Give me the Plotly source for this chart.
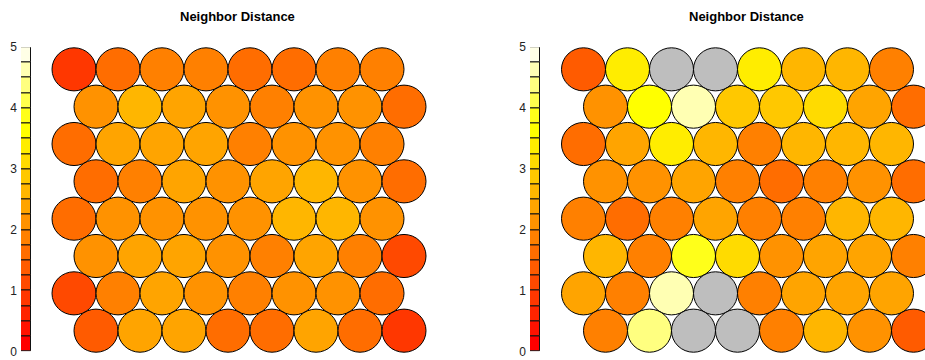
import math
import bisect
import plotly.graph_objects as go

# ---------------- data ----------------
heat_palette = ["#FF0000", "#FF1200", "#FF2400", "#FF3700", "#FF4900", "#FF5B00",
                "#FF6D00", "#FF8000", "#FF9200", "#FFA400", "#FFB600", "#FFC800",
                "#FFDB00", "#FFED00", "#FFFF00", "#FFFF1A", "#FFFF4D", "#FFFF80",
                "#FFFFB3", "#FFFFE6"]
scale_breaks = [0.0, 0.25, 0.5, 0.75, 1.0, 1.25, 1.5, 1.75, 2.0, 2.25, 2.5,
                2.75, 3.0, 3.25, 3.5, 3.75, 4.0, 4.25, 4.5, 4.75, 5.0]
key_ticks = [0, 1, 2, 3, 4, 5]
na_color = "#BEBEBE"
panel_title = "Neighbor Distance"

# rows listed from top row to bottom row, 8 units per row
left_dist = [
    [0.88, 1.62, 1.88, 1.88, 1.62, 1.62, 1.88, 1.88],
    [2.12, 2.62, 2.38, 2.12, 1.88, 2.12, 2.12, 1.62],
    [1.62, 2.38, 2.38, 2.38, 1.88, 2.12, 2.12, 1.88],
    [1.62, 1.88, 2.38, 2.12, 2.38, 2.62, 2.12, 1.62],
    [1.62, 2.12, 2.12, 2.12, 2.12, 2.62, 2.62, 2.12],
    [2.12, 2.38, 2.38, 2.12, 1.88, 2.38, 1.88, 1.12],
    [1.12, 1.88, 2.38, 2.12, 1.88, 2.12, 2.12, 1.62],
    [1.38, 2.38, 2.38, 1.62, 1.62, 2.38, 1.62, 0.88],
]
right_dist = [
    [1.38, 3.38, None, None, 3.38, 2.62, 2.62, 1.88],
    [2.12, 3.62, 4.62, 2.88, 2.88, 3.12, 2.38, 1.62],
    [1.62, 2.38, 3.38, 2.62, 1.88, 2.62, 2.62, 2.62],
    [2.12, 2.12, 2.38, 1.88, 1.62, 1.88, 2.12, 1.62],
    [1.88, 1.62, 1.88, 2.38, 1.88, 1.88, 2.62, 2.62],
    [2.62, 1.88, 3.88, 3.12, 2.12, 2.38, 2.38, 1.88],
    [2.38, 1.88, 4.62, None, 1.88, 2.38, 2.38, 2.38],
    [1.88, 4.38, None, None, 1.88, 2.62, 2.12, 1.38],
]

# ---------------- layout constants ----------------
W, H = 925, 360
UNIT = 44.0          # horizontal px per map unit
ROW_H = math.sqrt(3) / 2
N_ROWS = 8
# measured offset/scale of the captured picture (vertical)
CAP_OFF, CAP_SCALE = 6.0, 0.979


def to_layout_px(y_target):
    """vertical pixel in the figure that lands on y_target in the picture"""
    return (y_target - CAP_OFF) / CAP_SCALE


def value_color(v):
    if v is None:
        return na_color
    i = bisect.bisect_right(scale_breaks, v) - 1
    i = max(0, min(i, len(heat_palette) - 1))
    return heat_palette[i]


fig = go.Figure()

row_top_px = to_layout_px(69.5)
row_bot_px = to_layout_px(335.7)
v_unit = (row_bot_px - row_top_px) / ((N_ROWS - 1) * ROW_H)
top_y_data = (N_ROWS - 1) * ROW_H
y_hi = top_y_data + row_top_px / v_unit
y_lo = -(H - row_bot_px) / v_unit

key_top = to_layout_px(47)
key_bot = to_layout_px(357)

panels = [
    (left_dist, "x", "y", [0.0, 0.5], 74.0, (21, 31)),
    (right_dist, "x2", "y2", [0.5, 1.0], 583.5, (530, 540)),
]

shapes = []
for idx, (grid, xa, ya, dom, first_px, key_px) in enumerate(panels):
    xs, ys, txt = [], [], []
    for r, row in enumerate(grid):
        offset = 0.5 if r % 2 == 1 else 0.0
        cy = (N_ROWS - 1 - r) * ROW_H
        for c, v in enumerate(row):
            cx = c + 1 + offset
            xs.append(cx)
            ys.append(cy)
            txt.append("NA" if v is None else f"{v:.2f}")
            shapes.append(dict(type="circle", xref=xa, yref=ya,
                               x0=cx - 0.5, x1=cx + 0.5, y0=cy - 0.5, y1=cy + 0.5,
                               fillcolor=value_color(v),
                               line=dict(color="#000000", width=1),
                               layer="above"))
    fig.add_trace(go.Scatter(x=xs, y=ys, mode="markers", xaxis=xa, yaxis=ya,
                             marker=dict(size=30, opacity=0), text=txt,
                             hovertemplate="%{text}<extra></extra>",
                             showlegend=False))
    px0, px1 = dom[0] * W, dom[1] * W
    xr = [1 + (px0 - first_px) / UNIT, 1 + (px1 - first_px) / UNIT]
    axis_key = "xaxis" if xa == "x" else "xaxis2"
    yaxis_key = "yaxis" if ya == "y" else "yaxis2"
    fig.update_layout({
        axis_key: dict(domain=dom, range=xr, visible=False, fixedrange=True,
                       anchor=ya),
        yaxis_key: dict(domain=[0, 1], range=[y_lo, y_hi], visible=False,
                        fixedrange=True, anchor=xa),
    })

    # colour key as stacked bars
    kx = "x%d" % (idx + 3)
    ky = "y%d" % (idx + 3)
    fig.add_trace(go.Bar(
        x=[0] * len(heat_palette),
        y=[scale_breaks[i + 1] - scale_breaks[i] for i in range(len(heat_palette))],
        base=scale_breaks[:-1],
        xaxis=kx, yaxis=ky, width=1,
        marker=dict(color=heat_palette, line=dict(color="#111111", width=1)),
        hoverinfo="skip", showlegend=False))
    fig.update_layout({
        "xaxis%d" % (idx + 3): dict(domain=[key_px[0] / W, key_px[1] / W],
                                    range=[-0.5, 0.5], visible=False,
                                    fixedrange=True, anchor=ky),
        "yaxis%d" % (idx + 3): dict(domain=[max(0.0, (H - key_bot) / H),
                                            (H - key_top) / H],
                                    range=[scale_breaks[0], scale_breaks[-1]],
                                    tickvals=key_ticks,
                                    ticktext=[str(t) for t in key_ticks],
                                    ticks="", showgrid=False, zeroline=False,
                                    showline=False, ticklabelstandoff=3,
                                    ticklabeloverflow="allow",
                                    tickfont=dict(size=12, color="#222222"),
                                    fixedrange=True, anchor=kx),
    })

title_y = 1 - to_layout_px(15.5) / H
annotations = [
    dict(text="<b>%s</b>" % panel_title, x=237 / W, y=title_y, xref="paper",
         yref="paper", showarrow=False, xanchor="center", yanchor="middle",
         font=dict(size=13, color="#000000")),
    dict(text="<b>%s</b>" % panel_title, x=746 / W, y=title_y, xref="paper",
         yref="paper", showarrow=False, xanchor="center", yanchor="middle",
         font=dict(size=13, color="#000000")),
]

fig.update_layout(
    width=W, height=H,
    margin=dict(l=0, r=0, t=0, b=0),
    paper_bgcolor="white", plot_bgcolor="rgba(0,0,0,0)",
    font=dict(family="Liberation Sans, Arial, sans-serif"),
    shapes=shapes, annotations=annotations,
    bargap=0, showlegend=False,
)

fig.write_html(
    "out.html",
    config={"displayModeBar": False},
    post_script=("document.body.style.margin='0';"
                 "document.body.style.padding='0';"
                 "document.body.style.overflow='hidden';"),
)
